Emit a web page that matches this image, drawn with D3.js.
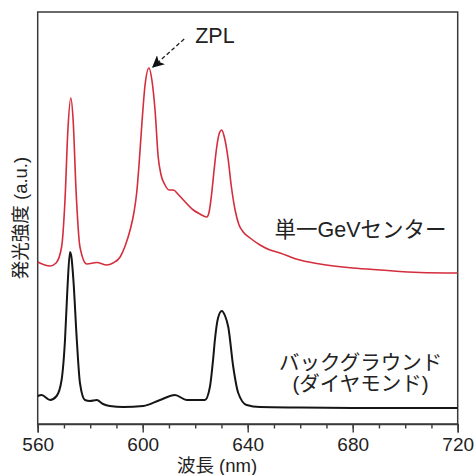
<!DOCTYPE html>
<html>
<head>
<meta charset="utf-8">
<script src="https://cdn.jsdelivr.net/npm/d3@7"></script>
<style>
  html, body { margin: 0; padding: 0; background: #fff; }
  svg { display: block; }
  text { font-family: "Liberation Sans", Arial, "Noto Sans CJK JP", sans-serif; fill: #222; }
</style>
</head>
<body>
<svg id="chart" width="476" height="475"></svg>
<script>
// Wavelength (nm) and relative intensity (a.u.)
const gevWavelength = [560, 564.7, 567, 569.1, 570.4, 571.5, 572.6, 573.5, 574.6, 576.1, 578.7, 582.5, 586.3, 588.7, 591.4, 593.3, 595.2, 596.7, 597.7, 598.6, 599.6, 600.9, 602.4, 603.5, 604.7, 605.9, 607, 608.5, 610, 611.7, 613.4, 615.5, 619.3, 621.8, 624.4, 625.3, 626.3, 627.2, 628.2, 629.1, 630.1, 631, 632.6, 633.7, 635.2, 636.7, 638.3, 640.9, 644.7, 648.5, 652.3, 658.4, 667.5, 680, 690.4, 705.6, 720];
const gevIntensity  = [162, 158, 161, 177, 224, 294, 326, 304, 234, 177, 160, 161.5, 159, 161, 167, 178, 194, 212, 231, 259, 297, 339, 356, 344, 314, 267, 249, 239, 234, 234, 230, 224, 214, 210, 207, 212, 231, 254, 277, 290, 294, 288, 264, 239, 214, 199, 192, 186, 179, 174, 171, 165, 160, 156, 154, 151.5, 151];

const bgWavelength = [560, 561.5, 564.7, 567.2, 569.1, 570.4, 571.3, 572.3, 572.9, 573.6, 574.9, 576.1, 578, 579.9, 582.5, 584.9, 587.5, 592.6, 600.2, 606.6, 612.3, 616.8, 623.7, 625.6, 626.8, 627.5, 628.7, 630.1, 631.4, 632.6, 634.5, 636.4, 639.6, 644.7, 659.9, 682.8, 720];
const bgIntensity  = [28, 29, 24, 28, 44, 84, 134, 172, 166, 144, 84, 41, 24, 23, 24, 20, 18, 17, 18, 24, 29, 24, 24, 37, 64, 84, 106, 113, 108, 97, 57, 31, 19, 17, 16.5, 16, 16];

const xTicks = [560, 600, 640, 680, 720];
const xMinorTicks = d3.range(560, 721, 10);

const labels = {
  gev: "単一GeVセンター",
  bg1: "バックグラウンド",
  bg2: "(ダイヤモンド)",
  zpl: "ZPL",
  xTitle: "波長 (nm)",
  yTitle: "発光強度 (a.u.)"
};

const svg = d3.select("#chart");
const mLeft = 37.7, mRight = 457.7, mTop = 12, mBottom = 424;

const x = d3.scaleLinear().domain([560, 720]).range([mLeft, mRight]);
const y = d3.scaleLinear().domain([0, 412]).range([mBottom, mTop]);

// frame
svg.append("rect")
  .attr("x", mLeft).attr("y", mTop)
  .attr("width", mRight - mLeft).attr("height", mBottom - mTop)
  .attr("fill", "none").attr("stroke", "#3a3a3a").attr("stroke-width", 1.5);

// x axis: minor ticks
svg.append("g")
  .attr("transform", `translate(0,${mBottom})`)
  .call(d3.axisBottom(x).tickValues(xMinorTicks).tickSize(4.5).tickFormat(""))
  .call(g => g.select(".domain").remove())
  .call(g => g.selectAll("line").attr("stroke", "#3a3a3a").attr("stroke-width", 1.4));

// x axis: major ticks with labels
svg.append("g")
  .attr("transform", `translate(0,${mBottom})`)
  .call(d3.axisBottom(x).tickValues(xTicks).tickSize(8.5).tickPadding(5).tickFormat(d3.format("d")))
  .call(g => g.select(".domain").attr("stroke", "#3a3a3a").attr("stroke-width", 1.5))
  .call(g => g.selectAll("line").attr("stroke", "#3a3a3a").attr("stroke-width", 1.4))
  .call(g => g.selectAll("text")
     .style("font-family", '"Liberation Sans", Arial, sans-serif')
     .attr("font-size", 19).attr("fill", "#222"));

// lines
const line = d3.line().curve(d3.curveMonotoneX);

svg.append("path")
  .attr("d", line(gevWavelength.map((w, i) => [x(w), y(gevIntensity[i])])))
  .attr("fill", "none").attr("stroke", "#d42d3c").attr("stroke-width", 1.6)
  .attr("stroke-linejoin", "round");

svg.append("path")
  .attr("d", line(bgWavelength.map((w, i) => [x(w), y(bgIntensity[i])])))
  .attr("fill", "none").attr("stroke", "#151515").attr("stroke-width", 2)
  .attr("stroke-linejoin", "round");

// axis titles
svg.append("text")
  .attr("x", 217).attr("y", 472)
  .attr("text-anchor", "middle").attr("font-size", 18.5)
  .text(labels.xTitle);

svg.append("text")
  .attr("transform", `translate(27,218) rotate(-90)`)
  .attr("text-anchor", "middle").attr("font-size", 18.5)
  .text(labels.yTitle);

// series labels
svg.append("text")
  .attr("x", x(683)).attr("y", 237)
  .attr("text-anchor", "middle").attr("font-size", 21.5)
  .text(labels.gev);

svg.append("text")
  .attr("x", x(683)).attr("y", 370)
  .attr("text-anchor", "middle").attr("font-size", 20.5)
  .text(labels.bg1);

svg.append("text")
  .attr("x", x(683)).attr("y", 391)
  .attr("text-anchor", "middle").attr("font-size", 20.5)
  .text(labels.bg2);

// ZPL annotation
svg.append("defs").append("marker")
  .attr("id", "ah").attr("viewBox", "0 0 10 10")
  .attr("refX", 9).attr("refY", 5)
  .attr("markerWidth", 14).attr("markerHeight", 12)
  .attr("markerUnits", "userSpaceOnUse")
  .attr("orient", "auto")
  .append("path").attr("d", "M0,0 L10,5 L0,10 L2.5,5 Z").attr("fill", "#111");

svg.append("line")
  .attr("x1", x(615.8)).attr("y1", y(385))
  .attr("x2", x(603.9)).attr("y2", y(357))
  .attr("stroke", "#222").attr("stroke-width", 1.3)
  .attr("stroke-dasharray", "4,2.5")
  .attr("marker-end", "url(#ah)");

svg.append("text")
  .attr("x", x(620)).attr("y", 43)
  .attr("text-anchor", "start").attr("font-size", 21.5)
  .style("font-family", '"Liberation Sans", Arial, sans-serif')
  .text(labels.zpl);
</script>
</body>
</html>
